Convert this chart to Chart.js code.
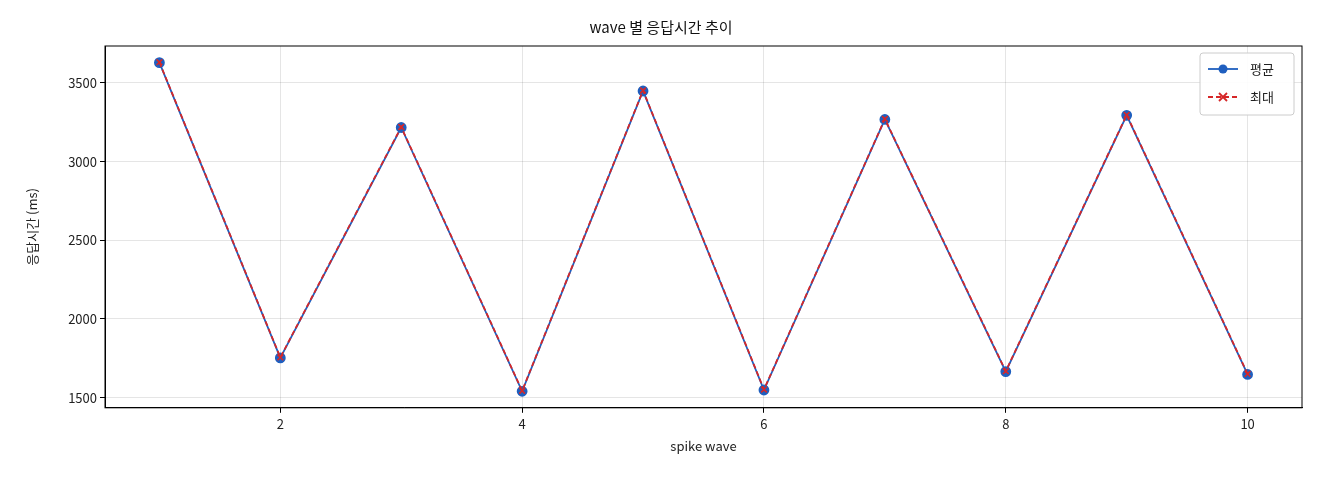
<!DOCTYPE html>
<html><head><meta charset="utf-8">
<script src="https://cdn.jsdelivr.net/npm/chart.js@4/dist/chart.umd.min.js"></script>
<style>html,body{margin:0;padding:0;background:#fff}#w{width:1320px;height:480px}</style>
</head><body><div id="w"><canvas id="c"></canvas></div>
<script>
const waves=[1,2,3,4,5,6,7,8,9,10];
const avgMs=[3629,1752,3217,1540,3449,1548,3268,1665,3294,1647];
const maxMs=[3632,1755,3220,1543,3452,1551,3271,1668,3297,1650];
const xTicks=[2,4,6,8,10];
const yTicks=[1500,2000,2500,3000,3500];
const F='"Noto Sans CJK KR","Noto Sans",sans-serif';
const legendPlugin={id:'lg',afterDraw(ch){const c=ch.ctx,a=ch.chartArea;const x=a.right-102,y=a.top+7,w=94,h=62;
c.save();c.fillStyle='rgba(255,255,255,0.9)';c.strokeStyle='#ccc';c.lineWidth=1;
c.beginPath();c.roundRect(x,y,w,h,3);c.fill();c.stroke();
c.font='13px '+F;c.textBaseline='middle';
const items=[['평균','#1f5fbf',false],['최대','#d62728',true]];
items.forEach((it,i)=>{const yy=y+16+i*28;c.strokeStyle=it[1];c.lineWidth=1.8;c.setLineDash(it[2]?[5,3]:[]);
c.beginPath();c.moveTo(x+8,yy);c.lineTo(x+38,yy);c.stroke();c.setLineDash([]);
if(it[2]){c.lineWidth=1.8;c.beginPath();c.moveTo(x+19,yy-4);c.lineTo(x+27,yy+4);c.moveTo(x+27,yy-4);c.lineTo(x+19,yy+4);c.stroke();}
else{c.fillStyle=it[1];c.beginPath();c.arc(x+23,yy,4.5,0,7);c.fill();}
c.fillStyle='#222';c.fillText(it[0],x+50,yy);});c.restore();}};
new Chart(document.getElementById('c'),{type:'scatter',
data:{datasets:[
{label:'평균',order:1,data:waves.map((x,i)=>({x,y:avgMs[i]})),showLine:true,borderColor:'#1f5fbf',backgroundColor:'#1f5fbf',borderWidth:1.8,pointRadius:4.5,pointHoverRadius:4.5},
{label:'최대',order:0,data:waves.map((x,i)=>({x,y:maxMs[i]})),showLine:true,borderColor:'#d62728',backgroundColor:'#d62728',borderDash:[5,3],borderWidth:1.8,pointStyle:'cross',rotation:45,pointRadius:4,pointBorderWidth:1.6}
]},
options:{responsive:true,maintainAspectRatio:false,animation:false,
layout:{padding:{left:20,right:18,top:12,bottom:22}},
plugins:{legend:{display:false},tooltip:{enabled:false},
title:{display:true,text:'wave 별 응답시간 추이',color:'#111',font:{family:F,size:15,weight:'normal'},padding:{top:6,bottom:10}}},
scales:{
x:{type:'linear',min:0.55,max:10.45,afterBuildTicks:s=>{s.ticks=xTicks.map(v=>({value:v}));},
grid:{color:'rgba(0,0,0,0.1)',drawTicks:true,tickLength:5,tickColor:'#000'},border:{color:'#000'},
ticks:{color:'#222',font:{family:F,size:13},maxRotation:0},
title:{display:true,text:'spike wave',color:'#222',font:{family:F,size:13},padding:{top:4}}},
y:{min:1435,max:3735,afterBuildTicks:s=>{s.ticks=yTicks.map(v=>({value:v}));},
afterFit:s=>{s.width=85;},
grid:{color:'rgba(0,0,0,0.1)',tickLength:5,tickColor:'#000'},border:{color:'#000'},
ticks:{color:'#222',font:{family:F,size:13},callback:v=>String(v)},
title:{display:true,text:'응답시간 (ms)',color:'#222',font:{family:F,size:13}}}}},
plugins:[legendPlugin,{id:'box',afterDraw(ch){const a=ch.chartArea,c=ch.ctx;c.save();c.strokeStyle='#000';c.lineWidth=1;c.strokeRect(a.left,a.top,a.right-a.left,a.bottom-a.top);c.restore();}}]
});
</script></body></html>
